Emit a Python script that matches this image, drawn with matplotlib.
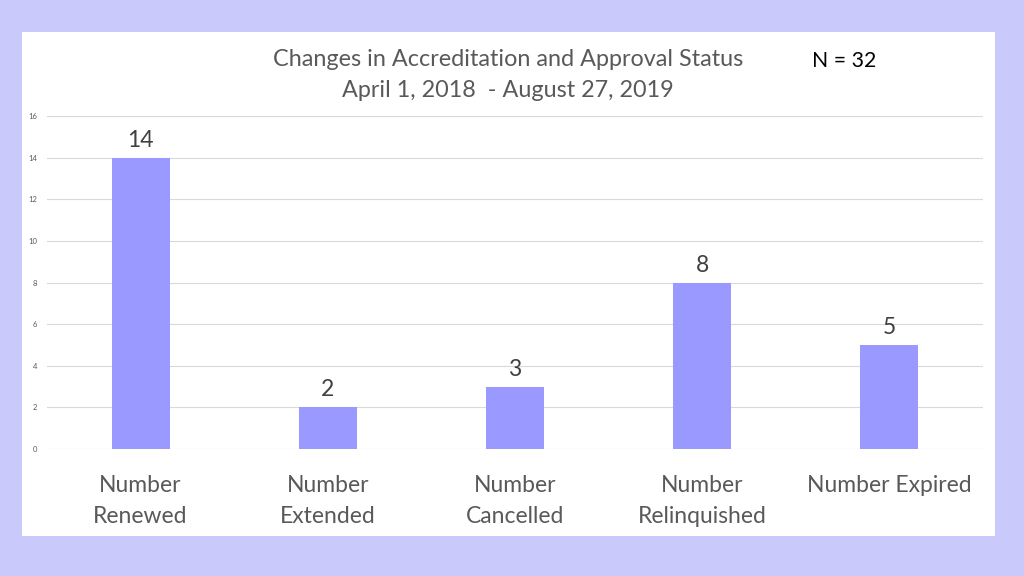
import matplotlib.pyplot as plt
from matplotlib.patches import Rectangle

# data
categories = ["Number\nRenewed", "Number\nExtended", "Number\nCancelled",
              "Number\nRelinquished", "Number Expired"]
counts = [14, 2, 3, 8, 5]
y_ticks = [0, 2, 4, 6, 8, 10, 12, 14, 16]

plt.rcParams['font.family'] = ['Lato', 'DejaVu Sans']

fig = plt.figure(figsize=(10.24, 5.76), dpi=100)
fig.patch.set_facecolor('#c9c9fc')

# white panel behind the chart
fig.patches.append(Rectangle((0.0215, 0.0694), 0.950, 0.875, transform=fig.transFigure,
                             facecolor='white', edgecolor='none', zorder=-5))

ax = fig.add_axes([0.0459, 0.2205, 0.914, 0.578])
ax.set_facecolor('none')

x = range(len(categories))
bars = ax.bar(x, counts, width=0.31, color='#9999ff', zorder=3)

ax.set_xlim(-0.5, len(categories) - 0.5)
ax.set_ylim(0, 16)
ax.set_yticks(y_ticks)
ax.yaxis.grid(True, color='#d9d9d9', linewidth=0.8, zorder=0)
ax.set_axisbelow(True)
ax.tick_params(axis='y', length=0, labelsize=5.5, labelcolor='#595959', pad=7)
ax.tick_params(axis='x', length=0, labelsize=16.5, labelcolor='#595959', pad=18.5)
ax.set_xticks(list(x))
ax.set_xticklabels(categories, linespacing=1.6)
for s in ax.spines.values():
    s.set_visible(False)

for b, v in zip(bars, counts):
    ax.annotate(str(v), (b.get_x() + b.get_width() / 2, v), xytext=(0, 5),
                textcoords='offset points', ha='center', va='bottom',
                fontsize=16.5, color='#404040')

fig.text(0.496, 0.897, "Changes in Accreditation and Approval Status", ha='center',
         va='center', fontsize=16.8, color='#595959')
fig.text(0.496, 0.8425, "April 1, 2018  - August 27, 2019", ha='center',
         va='center', fontsize=16.8, color='#595959')
fig.text(0.824, 0.894, "N = 32", ha='center', va='center', fontsize=15.3, color='black')

fig.savefig('out.png', dpi=100, facecolor=fig.get_facecolor())
